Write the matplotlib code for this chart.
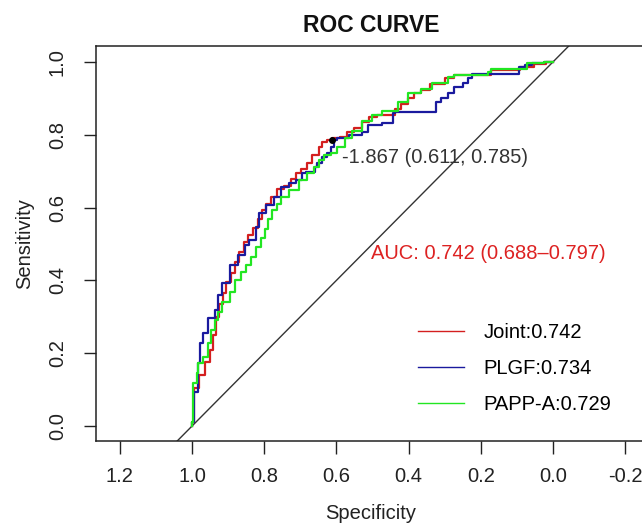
import matplotlib
matplotlib.use("Agg")
import matplotlib.pyplot as plt

plt.rcParams['font.family'] = ['Liberation Sans', 'DejaVu Sans']

# ---- data (specificity, sensitivity) ----
joint_spec = [1.0, 0.995, 0.980, 0.964, 0.951, 0.942, 0.933, 0.925, 0.915, 0.905, 0.893, 0.880,
              0.870, 0.856, 0.845, 0.830, 0.818, 0.805, 0.795, 0.780, 0.765, 0.745, 0.725, 0.712,
              0.699, 0.680, 0.667, 0.648, 0.639, 0.626, 0.611, 0.590, 0.570, 0.552, 0.530, 0.510,
              0.488, 0.438, 0.420, 0.401, 0.385, 0.365, 0.341, 0.300, 0.273, 0.268, 0.172, 0.090,
              0.053, 0.020, 0.0]
joint_sens = [0.0, 0.010, 0.104, 0.140, 0.177, 0.209, 0.250, 0.300, 0.335, 0.365, 0.395, 0.420,
              0.450, 0.478, 0.505, 0.525, 0.545, 0.570, 0.593, 0.610, 0.630, 0.650, 0.660, 0.680,
              0.694, 0.705, 0.722, 0.745, 0.767, 0.779, 0.785, 0.790, 0.795, 0.809, 0.820, 0.835,
              0.850, 0.855, 0.870, 0.886, 0.900, 0.914, 0.923, 0.940, 0.955, 0.964, 0.964, 0.978,
              0.987, 0.995, 1.0]

plgf_spec = [1.0, 0.995, 0.983, 0.978, 0.969, 0.955, 0.937, 0.928, 0.918, 0.896, 0.873, 0.854,
             0.841, 0.822, 0.813, 0.795, 0.772, 0.754, 0.731, 0.712, 0.694, 0.685, 0.658, 0.653,
             0.639, 0.626, 0.616, 0.607, 0.598, 0.585, 0.566, 0.530, 0.511, 0.474, 0.442, 0.438,
             0.323, 0.310, 0.291, 0.273, 0.250, 0.236, 0.223, 0.172, 0.094, 0.076, 0.058, 0.026, 0.0]
plgf_sens = [0.0, 0.010, 0.094, 0.172, 0.227, 0.255, 0.296, 0.319, 0.360, 0.392, 0.442, 0.470,
             0.497, 0.511, 0.548, 0.584, 0.607, 0.630, 0.657, 0.667, 0.676, 0.694, 0.699, 0.712,
             0.722, 0.740, 0.749, 0.767, 0.786, 0.790, 0.790, 0.800, 0.809, 0.827, 0.832, 0.859,
             0.864, 0.891, 0.900, 0.914, 0.932, 0.941, 0.955, 0.968, 0.968, 0.987, 0.992, 0.997, 1.0]

pappa_spec = [1.0, 0.996, 0.987, 0.983, 0.969, 0.955, 0.946, 0.937, 0.928, 0.918, 0.896, 0.882,
              0.863, 0.850, 0.836, 0.822, 0.809, 0.799, 0.790, 0.777, 0.765, 0.754, 0.731, 0.703,
              0.681, 0.662, 0.648, 0.635, 0.616, 0.598, 0.575, 0.557, 0.529, 0.502, 0.474, 0.429,
              0.401, 0.365, 0.335, 0.291, 0.273, 0.181, 0.172, 0.071, 0.026, 0.0]
pappa_sens = [0.0, 0.012, 0.117, 0.145, 0.172, 0.190, 0.227, 0.264, 0.291, 0.314, 0.342, 0.369,
              0.401, 0.424, 0.442, 0.465, 0.493, 0.516, 0.540, 0.570, 0.593, 0.611, 0.630, 0.648,
              0.676, 0.694, 0.712, 0.731, 0.745, 0.750, 0.767, 0.790, 0.811, 0.838, 0.855, 0.866,
              0.891, 0.914, 0.925, 0.941, 0.959, 0.964, 0.973, 0.982, 0.997, 1.0]

labels = ["Joint:0.742", "PLGF:0.734", "PAPP-A:0.729"]
colors = ["#d41f1f", "#1a1a9e", "#22e622"]

best_spec, best_sens = 0.611, 0.785
threshold_text = "-1.867 (0.611, 0.785)"
auc_text = "AUC: 0.742 (0.688\u20130.797)"

xticks = [1.2, 1.0, 0.8, 0.6, 0.4, 0.2, 0.0, -0.2]
yticks = [0.0, 0.2, 0.4, 0.6, 0.8, 1.0]

FS = 14.5

# ---- figure ----
fig = plt.figure(figsize=(6.42, 5.25), dpi=100)
ax = fig.add_axes([96/642, 84/525, 550/642, 395/525])
ax.set_xlim(1.266, -0.258)
ax.set_ylim(-0.041, 1.044)

ax.axline((1, 0), (0, 1), color="#333333", lw=1.0, zorder=1)

series = [(joint_spec, joint_sens), (plgf_spec, plgf_sens), (pappa_spec, pappa_sens)]
handles = []
for (sx, sy), c, lab in zip(series, colors, labels):
    ax.plot(sx, sy, drawstyle='steps-pre', color=c, lw=1.6, zorder=2)
    h, = ax.plot([], [], color=c, lw=1.0, label=lab)
    handles.append(h)

ax.plot([best_spec], [best_sens], 'o', color='black', ms=4, zorder=5)
ax.text(0.585, 0.739, threshold_text, ha='left', va='center', fontsize=FS, color='#333333')
ax.text(0.505, 0.474, auc_text, ha='left', va='center', fontsize=FS, color='#dd2222')

ax.set_xticks(xticks)
ax.set_xticklabels([f"{t:.1f}" for t in xticks])
ax.set_yticks(yticks)
ax.set_yticklabels([f"{t:.1f}" for t in yticks], rotation=90, va='center')
ax.tick_params(axis='both', length=9, width=1, labelsize=FS, colors='#222222')
ax.tick_params(axis='x', pad=10)
ax.tick_params(axis='y', pad=12)
for s in ax.spines.values():
    s.set_linewidth(1.1)
    s.set_color('#222222')

ax.set_xlabel("Specificity", fontsize=FS, color='#222222', labelpad=13)
ax.set_ylabel("Sensitivity", fontsize=FS, color='#222222', labelpad=10)

fig.text(371/642, 1 - 26/525, "ROC CURVE", ha='center', va='center',
         fontsize=16.5, fontweight='bold', color='#111111')

ax.legend(handles=handles, loc='upper left', frameon=False, fontsize=FS,
          bbox_to_anchor=(418/642, 1 - 323/525), bbox_transform=fig.transFigure,
          borderpad=0, borderaxespad=0, handlelength=2.3, handletextpad=0.95,
          labelspacing=0.85)

fig.savefig("out.png", dpi=100)
